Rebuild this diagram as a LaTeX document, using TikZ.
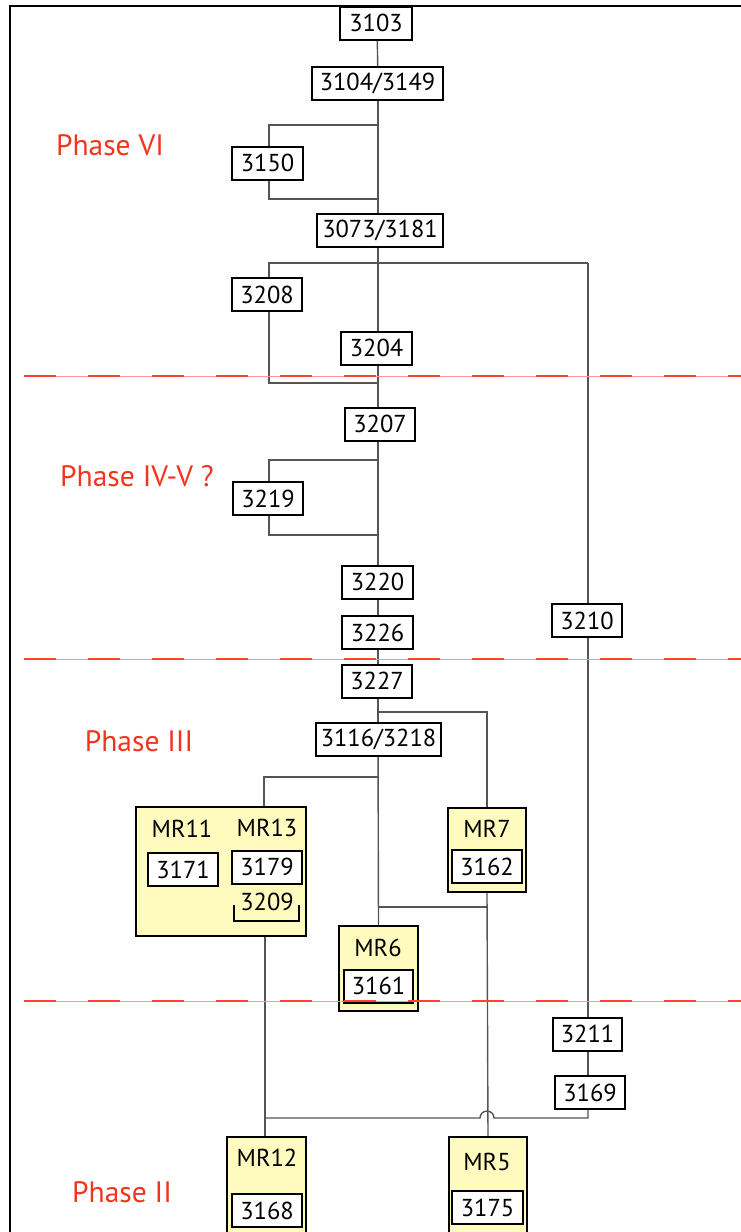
\documentclass[tikz,border=0pt]{standalone}
\usepackage{fontspec}
\setmainfont{PT Sans}
\definecolor{phred}{RGB}{240,52,30}
\definecolor{mryel}{RGB}{255,250,190}
\definecolor{conn}{RGB}{85,85,85}
\definecolor{dashdark}{RGB}{242,70,45}
\definecolor{dashlight}{RGB}{255,150,150}
\begin{document}
\begin{tikzpicture}[x=1pt,y=-1pt,
  numbox/.style={draw=black,line width=2pt,fill=white,inner sep=0pt,minimum height=33pt,font=\fontsize{24.5}{24.5}\selectfont},
  mrbox/.style={draw=black,line width=2pt,fill=mryel,inner sep=0pt},
  mrlab/.style={inner sep=0pt,font=\fontsize{24.5}{24.5}\selectfont},
  link/.style={draw=conn,line width=1.4pt},
  phase/.style={text=phred,inner sep=0pt,font=\fontsize{29.5}{29.5}\selectfont},
  sepbase/.style={draw=dashlight,line width=1pt},
  sepdash/.style={draw=dashdark,line width=1.6pt,dash pattern=on 32pt off 32pt}]
\useasboundingbox (0,0) rectangle (741,1232);
% frame
\draw[line width=2.2pt] (10,1233) -- (10,6) -- (742,6);
% phase labels
\node[phase] (pVI) at (110,145) {Phase VI};
\node[phase] (pIV) at (137,476) {Phase IV-V ?};
\node[phase] (pIII) at (139,741) {Phase III};
\node[phase] (pII) at (122,1192) {Phase II};
% MR boxes (background)
\node[mrbox,minimum width=170pt,minimum height=129pt] (mr1113) at (221,871.5) {};
\node[mrbox,minimum width=78pt,minimum height=84pt] (mr7) at (487,850) {};
\node[mrbox,minimum width=79pt,minimum height=85pt] (mr6) at (378.5,968.5) {};
\node[mrbox,minimum width=79pt,minimum height=110pt] (mr12) at (266.5,1192) {};
\node[mrbox,minimum width=78pt,minimum height=110pt] (mr5) at (488,1192) {};
% connectors
\coordinate (a125) at (378,125);
\coordinate (b125) at (269,125);
\coordinate (a199) at (378,199);
\coordinate (b199) at (269,199);
\coordinate (a263) at (378,263);
\coordinate (b263) at (269,263);
\coordinate (r263) at (588,263);
\coordinate (a383) at (378,383);
\coordinate (b383) at (269,383);
\coordinate (a460) at (378,460);
\coordinate (b460) at (269,460);
\coordinate (a535) at (378,535);
\coordinate (b535) at (269,535);
\coordinate (a712) at (378,712);
\coordinate (r712) at (487,712);
\coordinate (a777) at (378,777);
\coordinate (l777) at (264,777);
\coordinate (a907) at (378,907);
\coordinate (r907) at (487,907);
\coordinate (l1118) at (265,1118);
\coordinate (hopL) at (480,1118);
\coordinate (hopR) at (494,1118);
\coordinate (r1118) at (588,1118);
\draw[link] (377,22) -- (378,83);
\draw[link] (378,83) -- (378,230);
\draw[link] (a125) -- (b125) -- (b199) -- (a199);
\draw[link] (378,230) -- (378,424);
\draw[link] (r263) -- (a263) -- (b263) -- (b383) -- (a383);
\draw[link] (r263) -- (588,1093);
\draw[link] (a460) -- (b460) -- (b535) -- (a535);
\draw[link] (378,424) -- (378,740);
\draw[link] (a712) -- (r712) -- (mr7.north -| r712);
\draw[link] (378,740) -- (mr6.north);
\draw[link] (a777) -- (l777) -- (mr1113.north -| l777);
\draw[link] (a907) -- (r907);
\draw[link] (mr7.south) -- (mr5.north);
\draw[link] (mr1113.south -| l1118) -- (mr12.north -| l1118);
\draw[link] (l1118) -- (hopL) arc[start angle=180,end angle=0,radius=7pt] -- (r1118) -- (588,1093);
% number boxes
\node[numbox,minimum width=72pt] (n3103) at (376,23) {3103};
\node[numbox,minimum width=131pt] (n3104) at (377.5,83) {3104/3149};
\node[numbox,minimum width=71pt] (n3150) at (267.5,163) {3150};
\node[numbox,minimum width=126pt] (n3073) at (380,230) {3073/3181};
\node[numbox,minimum width=70pt] (n3208) at (267,294.5) {3208};
\node[numbox,minimum width=71pt] (n3204) at (376.5,348) {3204};
\node[numbox,minimum width=70pt] (n3207) at (380,424) {3207};
\node[numbox,minimum width=70pt] (n3219) at (268,498.5) {3219};
\node[numbox,minimum width=71pt] (n3220) at (377.5,582) {3220};
\node[numbox,minimum width=71pt] (n3226) at (377.5,632.5) {3226};
\node[numbox,minimum width=70pt] (n3227) at (377,681) {3227};
\node[numbox,minimum width=125pt] (n3116) at (378.5,739) {3116/3218};
\node[numbox,minimum width=70pt] (n3210) at (587,620.5) {3210};
\node[numbox,minimum width=69pt] (n3211) at (587.5,1034) {3211};
\node[numbox,minimum width=70pt] (n3169) at (590,1092.5) {3169};
% MR labels and inner boxes
\node[mrlab] (l11) at (182,829) {MR11};
\node[mrlab] (l13) at (267,828) {MR13};
\node[numbox,minimum width=70pt] (n3171) at (183,869.5) {3171};
\node[numbox,minimum width=70pt] (n3179) at (267,867) {3179};
\node[mrlab] (n3209) at (267,902) {3209};
\draw[line width=2pt] (234,905) -- (234,921) -- (299,921) -- (299,905);
\node[mrlab] (l7) at (487,829) {MR7};
\node[numbox,minimum width=70pt] (n3162) at (487,866.5) {3162};
\node[mrlab] (l6) at (378,948) {MR6};
\node[numbox,minimum width=69pt] (n3161) at (378.5,986) {3161};
\node[mrlab] (l12) at (267,1158) {MR12};
\node[numbox,minimum width=70pt] (n3168) at (267,1210.5) {3168};
\node[mrlab] (l5) at (487,1162) {MR5};
\node[numbox,minimum width=71pt] (n3175) at (487.5,1207.5) {3175};
% phase separators
\foreach \yy in {376,659,1001} {
  \draw[sepbase] (24,\yy) -- (741,\yy);
  \draw[sepdash] (24,\yy) -- (741,\yy);
}
\end{tikzpicture}
\end{document}
